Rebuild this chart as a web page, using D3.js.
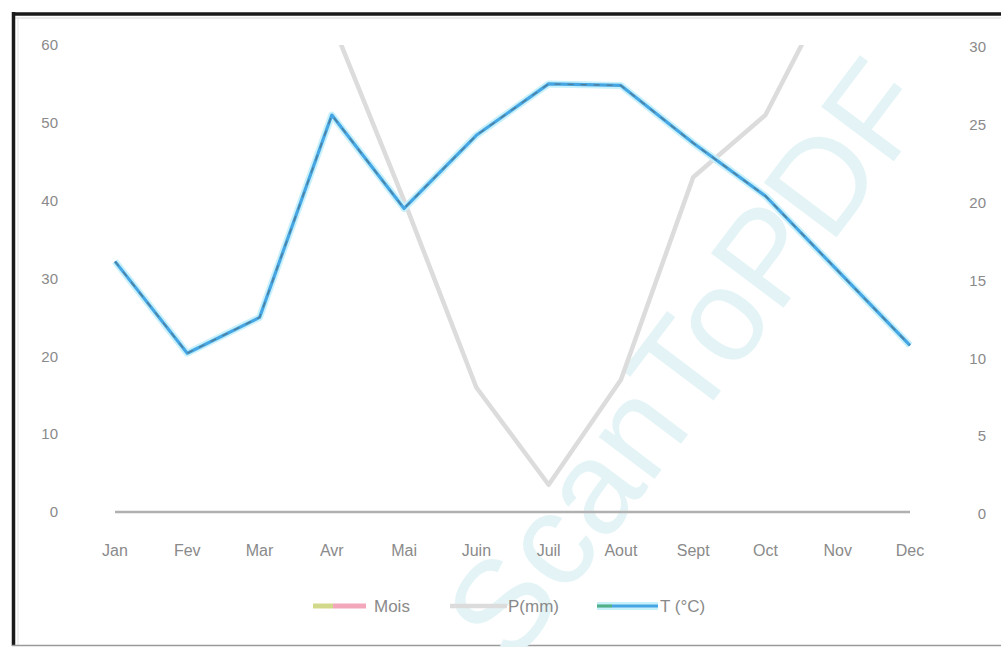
<!DOCTYPE html>
<html>
<head>
<meta charset="utf-8">
<script src="https://cdn.jsdelivr.net/npm/d3@7"></script>
<style>
  html, body { margin: 0; padding: 0; background: #fff; }
  svg { display: block; }
  text { font-family: "Liberation Sans", "DejaVu Sans", sans-serif; }
</style>
</head>
<body>
<svg id="chart" width="1001" height="647"></svg>
<script>
// Monthly climate data
const months = ["Jan", "Fev", "Mar", "Avr", "Mai", "Juin", "Juil", "Aout", "Sept", "Oct", "Nov", "Dec"];
// Precipitation (mm), left axis
const precip = [98, 88, 80, 63, 40, 16, 3.5, 17, 43, 51, 69, 92];
// Temperature (°C), right axis
const temp = [16.1, 10.2, 12.5, 25.5, 19.5, 24.2, 27.5, 27.4, 23.7, 20.3, 15.5, 10.7];
// Axis ticks
const leftTicks = [0, 10, 20, 30, 40, 50, 60];
const rightTicks = [0, 5, 10, 15, 20, 25, 30];
// Legend entries
const legendNames = ["Mois", "P(mm)", "T (°C)"];

const svg = d3.select("#chart");
const W = 1001, H = 647;

const x = d3.scalePoint().domain(months).range([115, 910]);
const yL = d3.scaleLinear().domain([0, 60]).range([512, 45]);
const yR = d3.scaleLinear().domain([0, 30]).range([512, 45]);

// Frame
svg.append("rect").attr("x", 0).attr("y", 0).attr("width", W).attr("height", H).attr("fill", "#fff");
svg.append("line").attr("x1", 12).attr("x2", W).attr("y1", 14).attr("y2", 14)
  .attr("stroke", "#1a1a1a").attr("stroke-width", 3.5);
svg.append("line").attr("x1", 12).attr("x2", W).attr("y1", 18).attr("y2", 18)
  .attr("stroke", "#d8d8d8").attr("stroke-width", 1);
svg.append("line").attr("x1", 13.5).attr("x2", 13.5).attr("y1", 12).attr("y2", 646)
  .attr("stroke", "#1a1a1a").attr("stroke-width", 3.5);
svg.append("line").attr("x1", 18).attr("x2", 18).attr("y1", 18).attr("y2", 646)
  .attr("stroke", "#e2e2e2").attr("stroke-width", 1);
svg.append("line").attr("x1", 12).attr("x2", W).attr("y1", 645.5).attr("y2", 645.5)
  .attr("stroke", "#9a9a9a").attr("stroke-width", 1.5);

// Watermark
svg.append("text")
  .attr("transform", "translate(512,668) rotate(-53)")
  .attr("font-size", 132)
  .attr("fill", "#e4f4f6")
  .attr("font-family", "Liberation Sans, sans-serif")
  .text("ScanToPDF");

// Plot clip
svg.append("clipPath").attr("id", "plotClip")
  .append("rect").attr("x", 100).attr("y", 45).attr("width", 830).attr("height", 475);

// Left axis labels
svg.append("g").selectAll("text").data(leftTicks).join("text")
  .attr("x", 58).attr("y", d => yL(d)).attr("dy", "0.35em")
  .attr("text-anchor", "end").attr("font-size", 15).attr("fill", "#8a8a8a")
  .text(d => d);

// Right axis labels
svg.append("g").selectAll("text").data(rightTicks).join("text")
  .attr("x", 986).attr("y", d => yR(d) + 2).attr("dy", "0.35em")
  .attr("text-anchor", "end").attr("font-size", 15).attr("fill", "#8a8a8a")
  .text(d => d);

// Category axis line and labels
svg.append("line").attr("x1", x(months[0])).attr("x2", x(months[months.length - 1]))
  .attr("y1", yL(0)).attr("y2", yL(0)).attr("stroke", "#b0b0b0").attr("stroke-width", 2.5);
svg.append("g").selectAll("text").data(months).join("text")
  .attr("x", d => x(d)).attr("y", 550).attr("dy", "0.35em")
  .attr("text-anchor", "middle").attr("font-size", 16).attr("fill", "#8a8a8a")
  .text(d => d);

const plot = svg.append("g").attr("clip-path", "url(#plotClip)");

// Precipitation line
const lineP = d3.line().x((d, i) => x(months[i])).y(d => yL(d));
plot.append("path").datum(precip)
  .attr("d", lineP).attr("fill", "none")
  .attr("stroke", "#dcdcdc").attr("stroke-width", 4.5).attr("stroke-linejoin", "round");

// Temperature line
const lineT = d3.line().x((d, i) => x(months[i])).y(d => yR(d));
plot.append("path").datum(temp)
  .attr("d", lineT).attr("fill", "none")
  .attr("stroke", "#c9f1fb").attr("stroke-width", 7).attr("stroke-linejoin", "round");
plot.append("path").datum(temp)
  .attr("d", lineT).attr("fill", "none")
  .attr("stroke", "#45a6e3").attr("stroke-width", 3.2).attr("stroke-linejoin", "round");
plot.append("path").datum(temp)
  .attr("d", lineT).attr("fill", "none")
  .attr("stroke", "#5a5a5a").attr("stroke-width", 1.3).attr("stroke-opacity", 0.55)
  .attr("stroke-dasharray", "6 7").attr("stroke-linejoin", "round");

// Legend
const legY = 606;
const leg = svg.append("g");
// Mois
leg.append("line").attr("x1", 313).attr("x2", 333).attr("y1", legY).attr("y2", legY)
  .attr("stroke", "#d3d98a").attr("stroke-width", 5);
leg.append("line").attr("x1", 333).attr("x2", 366).attr("y1", legY).attr("y2", legY)
  .attr("stroke", "#f2a7bb").attr("stroke-width", 5);
leg.append("text").attr("x", 374).attr("y", legY).attr("dy", "0.35em")
  .attr("font-size", 17).attr("fill", "#8a8a8a").text(legendNames[0]);
// P(mm)
leg.append("line").attr("x1", 450).attr("x2", 507).attr("y1", legY).attr("y2", legY)
  .attr("stroke", "#dcdcdc").attr("stroke-width", 4.5);
leg.append("text").attr("x", 508).attr("y", legY).attr("dy", "0.35em")
  .attr("font-size", 17).attr("fill", "#8a8a8a").text(legendNames[1]);
// T (°C)
leg.append("line").attr("x1", 597).attr("x2", 658).attr("y1", legY).attr("y2", legY)
  .attr("stroke", "#c9f1fb").attr("stroke-width", 8);
leg.append("line").attr("x1", 597).attr("x2", 612).attr("y1", legY).attr("y2", legY)
  .attr("stroke", "#4fb08a").attr("stroke-width", 3.2);
leg.append("line").attr("x1", 612).attr("x2", 658).attr("y1", legY).attr("y2", legY)
  .attr("stroke", "#45a6e3").attr("stroke-width", 3.2);
leg.append("text").attr("x", 660).attr("y", legY).attr("dy", "0.35em")
  .attr("font-size", 17).attr("fill", "#8a8a8a").text(legendNames[2]);
</script>
</body>
</html>
